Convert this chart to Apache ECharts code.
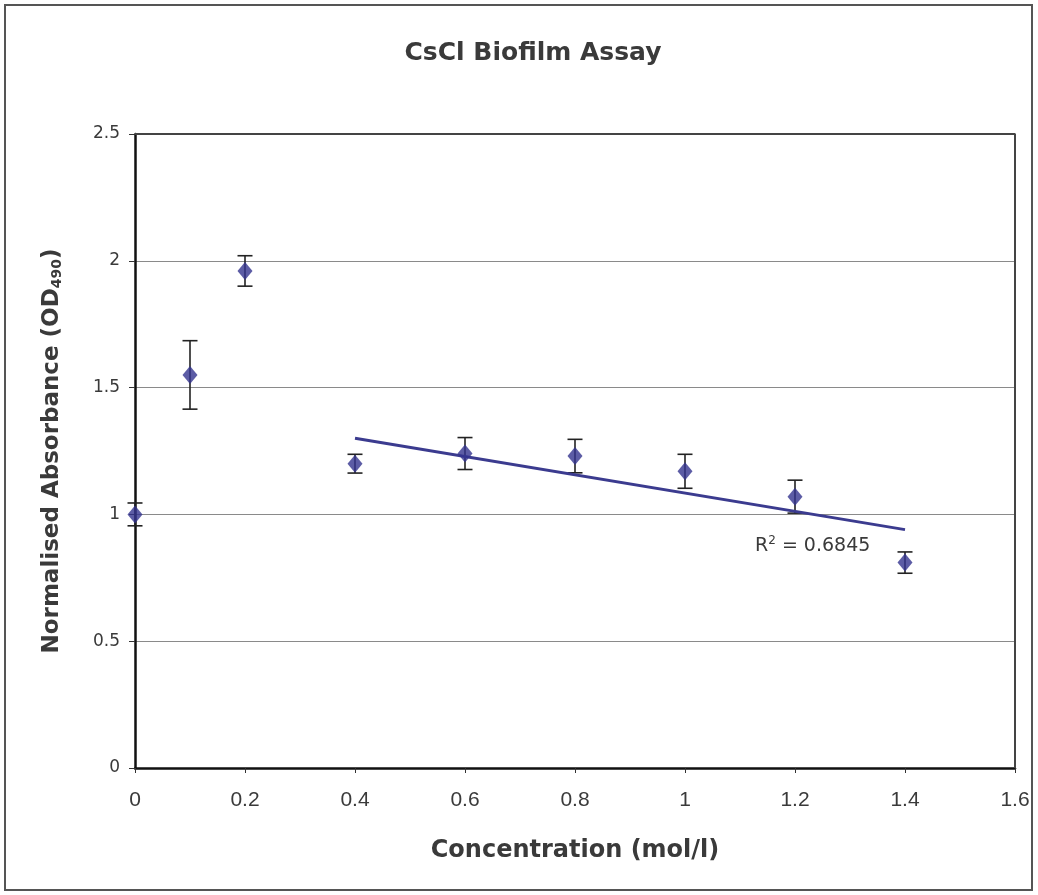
<!DOCTYPE html>
<html>
<head>
<meta charset="utf-8">
<script src="https://cdn.jsdelivr.net/npm/echarts@6/dist/echarts.min.js"></script>
<style>
html,body{margin:0;padding:0;background:#fff;}
#chart{width:1038px;height:895px;}
</style>
</head>
<body>
<div id="chart"></div>
<script>
// ---- data ----
const concentrations = [0, 0.1, 0.2, 0.4, 0.6, 0.8, 1.0, 1.2, 1.4];
const absorbance     = [1.00, 1.55, 1.96, 1.20, 1.24, 1.23, 1.17, 1.07, 0.81];
const errors         = [0.045, 0.135, 0.06, 0.037, 0.063, 0.066, 0.067, 0.065, 0.042];
const trendFrom = 0.4;   // linear trendline fitted over concentrations >= 0.4
const rSquaredValue = '0.6845';
const xTicks = [0, 0.2, 0.4, 0.6, 0.8, 1, 1.2, 1.4, 1.6];
const yTicks = [0, 0.5, 1, 1.5, 2, 2.5];

// least-squares trendline from the data
const tx = [], ty = [];
concentrations.forEach((c, i) => { if (c >= trendFrom - 1e-9) { tx.push(c); ty.push(absorbance[i]); } });
const n = tx.length;
const mx = tx.reduce((a, b) => a + b, 0) / n;
const my = ty.reduce((a, b) => a + b, 0) / n;
let sxy = 0, sxx = 0;
for (let i = 0; i < n; i++) { sxy += (tx[i] - mx) * (ty[i] - my); sxx += (tx[i] - mx) ** 2; }
const slope = sxy / sxx, intercept = my - slope * mx;
const xMinT = Math.min(...tx), xMaxT = Math.max(...tx);
const trendData = [[xMinT, intercept + slope * xMinT], [xMaxT, intercept + slope * xMaxT]];

const points = concentrations.map((c, i) => [c, absorbance[i]]);
const errData = concentrations.map((c, i) => [c, absorbance[i] - errors[i], absorbance[i] + errors[i]]);

const chart = echarts.init(document.getElementById('chart'), null, { renderer: 'canvas' });
const wide = "'DejaVu Sans', 'Liberation Sans', Arial, sans-serif";
const arial = "'Liberation Sans', Arial, sans-serif";
const txt = '#3a3a3a';
chart.setOption({
  backgroundColor: '#fff',
  animation: false,
  title: {
    text: 'CsCl Biofilm Assay',
    left: 528,
    textAlign: 'center',
    top: 36,
    textStyle: { fontFamily: wide, fontSize: 25, fontWeight: 'bold', color: txt }
  },
  grid: { left: 135, right: 23, top: 134, bottom: 127, show: false },
  xAxis: {
    type: 'value', min: 0, max: 1.6, interval: 0.2,
    name: 'Concentration (mol/l)',
    nameLocation: 'middle', nameGap: 71,
    nameTextStyle: { fontFamily: wide, fontSize: 24, fontWeight: 'bold', color: txt },
    axisLine: { show: true, lineStyle: { color: '#111', width: 2.5 } },
    axisTick: { show: true, inside: false, length: 5, lineStyle: { color: '#333', width: 1 } },
    axisLabel: { margin: 22, fontFamily: arial, fontSize: 21, color: txt,
      formatter: v => String(+v.toFixed(1)) },
    splitLine: { show: false }
  },
  yAxis: {
    type: 'value', min: 0, max: 2.5, interval: 0.5,
    name: '{m|Normalised Absorbance (OD}{s|490}{m|)}',
    nameLocation: 'middle', nameGap: 71, nameRotate: 90,
    nameTextStyle: {
      rich: {
        m: { fontFamily: wide, fontSize: 23, fontWeight: 'bold', color: txt },
        s: { fontFamily: wide, fontSize: 14, fontWeight: 'bold', color: txt, padding: [9, 0, 0, 0] }
      }
    },
    axisLine: { show: true, lineStyle: { color: '#111', width: 2.5 } },
    axisTick: { show: true, inside: false, length: 6, lineStyle: { color: '#333', width: 1 } },
    axisLabel: { margin: 15, fontFamily: wide, fontSize: 17, color: txt,
      formatter: v => String(+v.toFixed(1)) },
    splitLine: { show: true, lineStyle: { color: '#8a8a8a', width: 1 } }
  },
  graphic: [
    { type: 'rect', shape: { x: 5, y: 5, width: 1027, height: 885 },
      style: { fill: null, stroke: '#555', lineWidth: 2 }, z: -1 },
    { type: 'text', left: 755, top: 535,
      style: { text: '{a|R}{b|2}{a| = ' + rSquaredValue + '}',
        rich: {
          a: { fontFamily: wide, fontSize: 19, fill: txt, color: txt },
          b: { fontFamily: wide, fontSize: 12, fill: txt, color: txt, padding: [0, 0, 10, 0] }
        } } }
  ],
  series: [
    {
      type: 'custom',
      name: 'error',
      z: 3,
      data: errData,
      renderItem: function (params, api) {
        const x = api.value(0);
        const lo = api.coord([x, api.value(1)]);
        const hi = api.coord([x, api.value(2)]);
        const hw = 7.5;
        const st = { stroke: '#222', lineWidth: 1.6 };
        return {
          type: 'group',
          children: [
            { type: 'line', shape: { x1: lo[0], y1: lo[1], x2: hi[0], y2: hi[1] }, style: st },
            { type: 'line', shape: { x1: lo[0] - hw, y1: lo[1], x2: lo[0] + hw, y2: lo[1] }, style: st },
            { type: 'line', shape: { x1: hi[0] - hw, y1: hi[1], x2: hi[0] + hw, y2: hi[1] }, style: st }
          ]
        };
      }
    },
    {
      type: 'line',
      name: 'trend',
      data: trendData,
      symbol: 'none',
      z: 4,
      lineStyle: { color: '#3b3b8f', width: 3 }
    },
    {
      type: 'scatter',
      name: 'data',
      data: points,
      symbol: 'diamond',
      symbolSize: [15, 18],
      z: 5,
      itemStyle: { color: '#33338f' }
    },
    {
      // plot-area frame (top & right edges)
      type: 'line',
      data: [[0, 2.5], [1.6, 2.5], [1.6, 0]],
      symbol: 'none', silent: true, z: 1,
      lineStyle: { color: '#444', width: 2 }
    }
  ]
});
</script>
</body>
</html>
